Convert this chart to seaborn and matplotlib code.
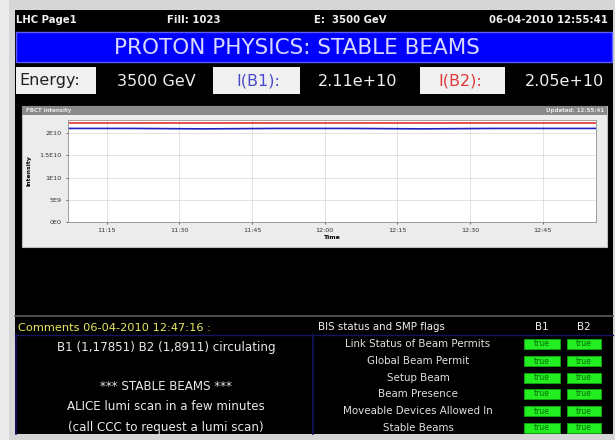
import numpy as np
import pandas as pd
import seaborn as sns
import matplotlib.pyplot as plt
from matplotlib.patches import Rectangle

# Header / status texts
header_texts = ["LHC Page1", "Fill: 1023", "E:  3500 GeV", "06-04-2010 12:55:41"]
title_text = "PROTON PHYSICS: STABLE BEAMS"
energy_label, energy_value = "Energy:", "3500 GeV"
b1_label, b1_value = "I(B1):", "2.11e+10"
b2_label, b2_value = "I(B2):", "2.05e+10"

# FBCT intensity trace
times = ["11:07", "11:20", "11:35", "11:50", "12:05", "12:20", "12:35", "12:50", "12:56"]
intensity_b1 = [2.11e10, 2.11e10, 2.10e10, 2.11e10, 2.11e10, 2.10e10, 2.11e10, 2.11e10, 2.11e10]
intensity_b2 = [2.24e10, 2.24e10, 2.24e10, 2.24e10, 2.24e10, 2.24e10, 2.24e10, 2.24e10, 2.24e10]
x_ticks = ["11:15", "11:30", "11:45", "12:00", "12:15", "12:30", "12:45"]
y_ticks = [0, 5e9, 1e10, 1.5e10, 2e10]
y_tick_labels = ["0E0", "5E9", "1E10", "1.5E10", "2E10"]

# Comments and BIS flags
comment_header = "Comments 06-04-2010 12:47:16 :"
comment_lines = ["B1 (1,17851) B2 (1,8911) circulating", "", "*** STABLE BEAMS ***",
                 "ALICE lumi scan in a few minutes", "(call CCC to request a lumi scan)"]
flag_names = ["Link Status of Beam Permits", "Global Beam Permit", "Setup Beam",
              "Beam Presence", "Moveable Devices Allowed In", "Stable Beams"]
flags_b1 = ["true"] * 6
flags_b2 = ["true"] * 6

W, H = 615, 440
fig = plt.figure(figsize=(W / 100, H / 100), dpi=100)
fig.patch.set_facecolor("#ebebeb")

# Full-figure axes in pixel coordinates for the page panel
ax = fig.add_axes([0, 0, 1, 1])
ax.set_xlim(0, W)
ax.set_ylim(H, 0)
ax.axis("off")


def box(x0, y0, x1, y1, fc, ec="none", lw=0.0, z=1):
    ax.add_patch(Rectangle((x0, y0), x1 - x0, y1 - y0, facecolor=fc, edgecolor=ec, linewidth=lw, zorder=z))


box(9, 0, 615, 440, "#d6d6d6", z=0)
box(15, 10, 613, 434, "#000000")

# Top header line
hx = [16, 167, 314, 608]
for i, t in enumerate(header_texts):
    ax.text(hx[i], 20, t, color="#f0f0f0", fontsize=7.3, fontweight="bold",
            ha="right" if i == 3 else "left", va="center", zorder=3)

# Blue title banner
box(16, 32, 612, 62, "#0000ff", ec="#5a5aff", lw=1.0, z=2)
ax.text(297, 47.5, title_text, color="#d8d8ff", fontsize=15.5, ha="center", va="center", zorder=3)

# Energy / intensity row
box(16, 67, 96, 94, "#f0f0f0", z=2)
ax.text(50, 81, energy_label, color="#202020", fontsize=11.5, ha="center", va="center", zorder=3)
ax.text(156, 81, energy_value, color="#f0f0f0", fontsize=11.5, ha="center", va="center", zorder=3)
box(213, 67, 300, 94, "#f0f0f0", z=2)
ax.text(258, 81, b1_label, color="#4a4ad0", fontsize=11.5, ha="center", va="center", zorder=3)
ax.text(358, 81, b1_value, color="#f0f0f0", fontsize=11.5, ha="center", va="center", zorder=3)
box(420, 67, 505, 94, "#f0f0f0", z=2)
ax.text(460, 81, b2_label, color="#e03a3a", fontsize=11.5, ha="center", va="center", zorder=3)
ax.text(564, 81, b2_value, color="#f0f0f0", fontsize=11.5, ha="center", va="center", zorder=3)

# Chart frame
box(22, 106, 607, 247, "#ececec", ec="#bcbcbc", lw=0.8, z=2)
box(22, 106, 607, 115, "#8a8a8a", z=2)
ax.text(26, 110.5, "FBCT Intensity", color="#e8e8e8", fontsize=4, fontweight="bold",
        ha="left", va="center", zorder=3)
ax.text(604, 110.5, "Updated: 12:55:41", color="#e8e8e8", fontsize=4, fontweight="bold",
        ha="right", va="center", zorder=3)

# Bottom divider and comment area
ax.plot([15, 613], [316, 316], color="#5a5a5a", lw=1.2, zorder=3)
ax.text(18, 328, comment_header, color="#e8e860", fontsize=8.2, ha="left", va="center", zorder=3)
ax.text(318, 327, "BIS status and SMP flags", color="#f0f0f0", fontsize=7.4, ha="left", va="center", zorder=3)
ax.text(542, 327, "B1", color="#f0f0f0", fontsize=7.4, ha="center", va="center", zorder=3)
ax.text(584, 327, "B2", color="#f0f0f0", fontsize=7.4, ha="center", va="center", zorder=3)
ax.plot([15, 613], [335, 335], color="#141460", lw=1.0, zorder=3)
ax.plot([313, 313], [335, 434], color="#141460", lw=1.2, zorder=3)
ax.plot([15.5, 15.5], [335, 434], color="#141460", lw=1.2, zorder=3)

cy = [347, 367, 387, 407, 427]
for y, t in zip(cy, comment_lines):
    ax.text(166, y, t, color="#e8e8e8", fontsize=8.6, ha="center", va="center", zorder=3)

fy = [344, 361, 378, 394, 411, 428]
for y, name, f1, f2 in zip(fy, flag_names, flags_b1, flags_b2):
    ax.text(418, y, name, color="#e0e0e0", fontsize=7.4, ha="center", va="center", zorder=3)
    box(524, y - 5, 560, y + 5, "#22ee22", ec="#11aa11", lw=0.6, z=3)
    box(567, y - 5, 601, y + 5, "#22ee22", ec="#11aa11", lw=0.6, z=3)
    ax.text(542, y, f1, color="#0a6a0a", fontsize=5.5, ha="center", va="center", zorder=4)
    ax.text(584, y, f2, color="#0a6a0a", fontsize=5.5, ha="center", va="center", zorder=4)

# Intensity plot (seaborn)
day = "2010-04-06 "
df = pd.DataFrame({
    "Time": pd.to_datetime([day + t for t in times] * 2),
    "Intensity": intensity_b2 + intensity_b1,
    "Beam": ["B2"] * len(times) + ["B1"] * len(times),
})
cax = fig.add_axes([68 / W, 1 - 222 / H, (596 - 68) / W, (222 - 120) / H], zorder=5)
sns.lineplot(data=df, x="Time", y="Intensity", hue="Beam",
             palette={"B1": "#2020c0", "B2": "#e03030"}, lw=1.2, ax=cax, legend=False)
cax.set_facecolor("white")
cax.set_xlim(pd.Timestamp(day + "11:07"), pd.Timestamp(day + "12:56"))
cax.set_ylim(0, 2.3e10)
cax.set_xticks(pd.to_datetime([day + t for t in x_ticks]))
cax.set_xticklabels(x_ticks)
cax.set_yticks(y_ticks)
cax.set_yticklabels(y_tick_labels)
cax.tick_params(labelsize=4.6, colors="#333333", length=1.5, width=0.5, pad=3)
cax.grid(True, color="#d8d8d8", lw=0.5)
for s in cax.spines.values():
    s.set_color("#909090")
    s.set_linewidth(0.6)
cax.set_xlabel("Time", fontsize=4.4, labelpad=1, fontweight="bold")
cax.set_ylabel("Intensity", fontsize=4.4, labelpad=6, fontweight="bold")

fig.savefig("out.png", dpi=100, facecolor=fig.get_facecolor())
